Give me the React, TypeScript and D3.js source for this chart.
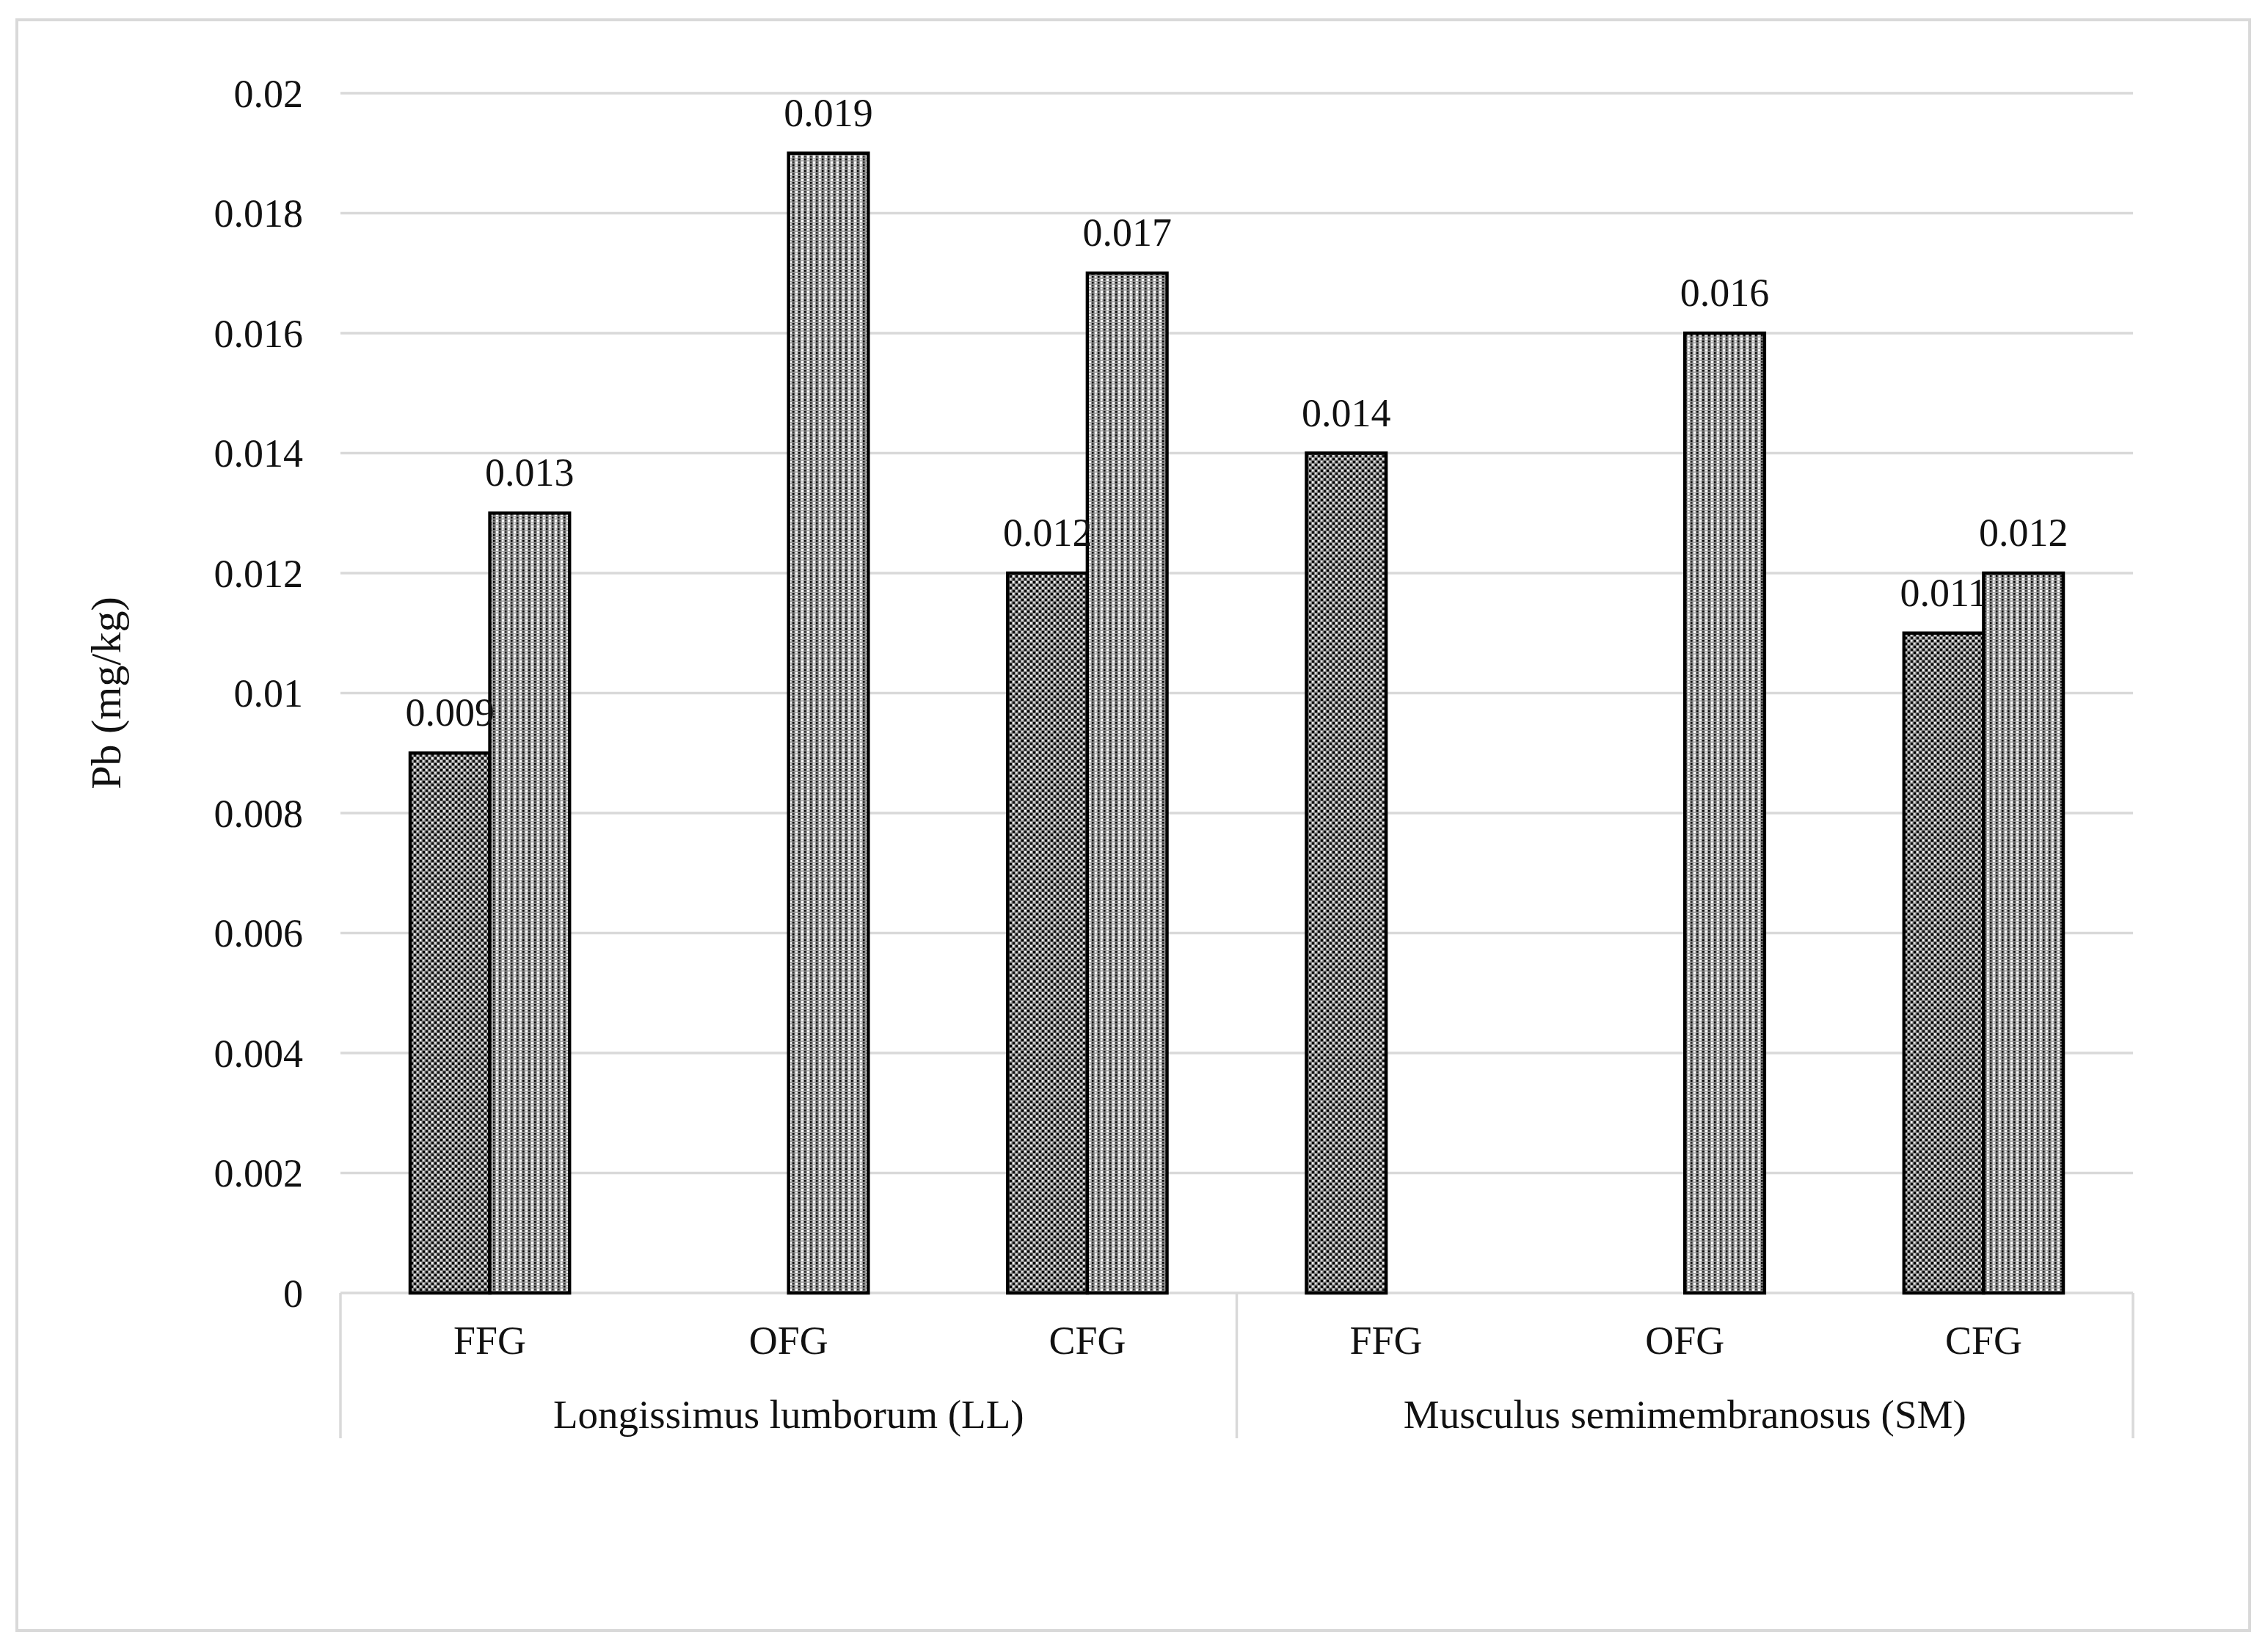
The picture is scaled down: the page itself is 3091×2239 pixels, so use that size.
import React from "react";
import * as d3 from "d3";

const groups = ["Longissimus lumborum (LL)", "Musculus semimembranosus (SM)"];
const categories = ["FFG", "OFG", "CFG", "FFG", "OFG", "CFG"];
const categoryGroup = [0, 0, 0, 1, 1, 1];
const series1: (number | null)[] = [0.009, null, 0.012, 0.014, null, 0.011];
const series2: (number | null)[] = [0.013, 0.019, 0.017, null, 0.016, 0.012];
const tickValues = [0, 0.002, 0.004, 0.006, 0.008, 0.01, 0.012, 0.014, 0.016, 0.018, 0.02];
const tickLabels = ["0", "0.002", "0.004", "0.006", "0.008", "0.01", "0.012", "0.014", "0.016", "0.018", "0.02"];
const yTitle = "Pb (mg/kg)";

const W = 3091;
const H = 2239;
const left = 464;
const right = 2907;
const top = 127;
const bottom = 1762;
const gapWidth = 1.75;
const FONT = "'Liberation Serif', 'Times New Roman', serif";
const GRID = "#d9d9d9";

export default function App() {
  const x = d3.scaleBand<number>().domain(d3.range(categories.length)).range([left, right]).padding(0);
  const y = d3.scaleLinear().domain([0, 0.02]).range([bottom, top]);
  const bw = x.bandwidth() / (2 + gapWidth);
  const inner = d3
    .scaleBand<string>()
    .domain(["s1", "s2"])
    .range([(x.bandwidth() - 2 * bw) / 2, (x.bandwidth() + 2 * bw) / 2])
    .padding(0);
  const fmt = d3.format(".3f");

  const seriesList = [
    { key: "s1", values: series1, fill: "url(#pat1)" },
    { key: "s2", values: series2, fill: "url(#pat2)" },
  ];

  const groupIdx = d3.range(groups.length);
  const groupBounds = groupIdx.map((g) => {
    const idx = categoryGroup.map((cg, i) => (cg === g ? i : -1)).filter((i) => i >= 0);
    const x0 = x(idx[0])!;
    const x1 = x(idx[idx.length - 1])! + x.bandwidth();
    return { x0, x1 };
  });
  const dividers = [left, ...groupBounds.map((b) => b.x1)];

  return (
    <svg width={W} height={H} style={{ position: "absolute", left: 0, top: 0, background: "#fff" }}>
      <defs>
        <pattern id="pat1" width="8" height="8" patternUnits="userSpaceOnUse">
          <rect width="8" height="8" fill="#7e7e7e" />
          <rect x="0" y="0" width="3" height="3" fill="#000" />
          <rect x="4" y="4" width="3" height="3" fill="#111" />
          <rect x="4" y="0" width="2.5" height="2.5" fill="#fff" />
          <rect x="0" y="4" width="2.5" height="2.5" fill="#e0e0e0" />
        </pattern>
        <pattern id="pat2" width="8" height="8" patternUnits="userSpaceOnUse">
          <rect width="8" height="8" fill="#999" />
          <rect x="0" y="0" width="2.5" height="2.5" fill="#000" />
          <rect x="4" y="4" width="3" height="3" fill="#fff" />
          <rect x="4" y="0" width="2.5" height="2.5" fill="#eee" />
          <rect x="0" y="4" width="2.5" height="2.5" fill="#333" />
        </pattern>
      </defs>
      <rect x={0} y={0} width={W} height={H} fill="#fff" />
      <rect x={23} y={27} width={3066 - 23} height={2222 - 27} fill="none" stroke={GRID} strokeWidth={4} />

      {tickValues.map((t, i) => (
        <line key={"g" + i} x1={left} x2={right} y1={y(t)} y2={y(t)} stroke={GRID} strokeWidth={3.5} />
      ))}
      {tickValues.map((t, i) => (
        <text
          key={"t" + i}
          x={413}
          y={y(t)}
          dy="0.35em"
          textAnchor="end"
          fontFamily={FONT}
          fontSize={54}
          fill="#111"
        >
          {tickLabels[i]}
        </text>
      ))}

      {dividers.map((dx, i) => (
        <line key={"d" + i} x1={dx} x2={dx} y1={bottom} y2={1960} stroke={GRID} strokeWidth={3.5} />
      ))}

      {seriesList.map((s) =>
        s.values.map((v, i) =>
          v == null ? null : (
            <rect
              key={s.key + i}
              x={x(i)! + inner(s.key)!}
              y={y(v)}
              width={inner.bandwidth()}
              height={y(0) - y(v)}
              fill={s.fill}
              stroke="#000"
              strokeWidth={4.5}
            />
          )
        )
      )}

      {seriesList.map((s) =>
        s.values.map((v, i) =>
          v == null ? null : (
            <text
              key={"l" + s.key + i}
              x={x(i)! + inner(s.key)! + inner.bandwidth() / 2}
              y={y(v) - 37}
              textAnchor="middle"
              fontFamily={FONT}
              fontSize={54}
              fill="#111"
            >
              {fmt(v)}
            </text>
          )
        )
      )}

      {categories.map((c, i) => (
        <text
          key={"c" + i}
          x={x(i)! + x.bandwidth() / 2}
          y={1845}
          textAnchor="middle"
          fontFamily={FONT}
          fontSize={54}
          fill="#111"
        >
          {c}
        </text>
      ))}
      {groups.map((g, i) => (
        <text
          key={"gr" + i}
          x={(groupBounds[i].x0 + groupBounds[i].x1) / 2}
          y={1946}
          textAnchor="middle"
          fontFamily={FONT}
          fontSize={55}
          fill="#111"
        >
          {g}
        </text>
      ))}

      <text
        transform={`translate(164, ${(top + bottom) / 2}) rotate(-90)`}
        textAnchor="middle"
        fontFamily={FONT}
        fontSize={58}
        fill="#111"
      >
        {yTitle}
      </text>
    </svg>
  );
}
